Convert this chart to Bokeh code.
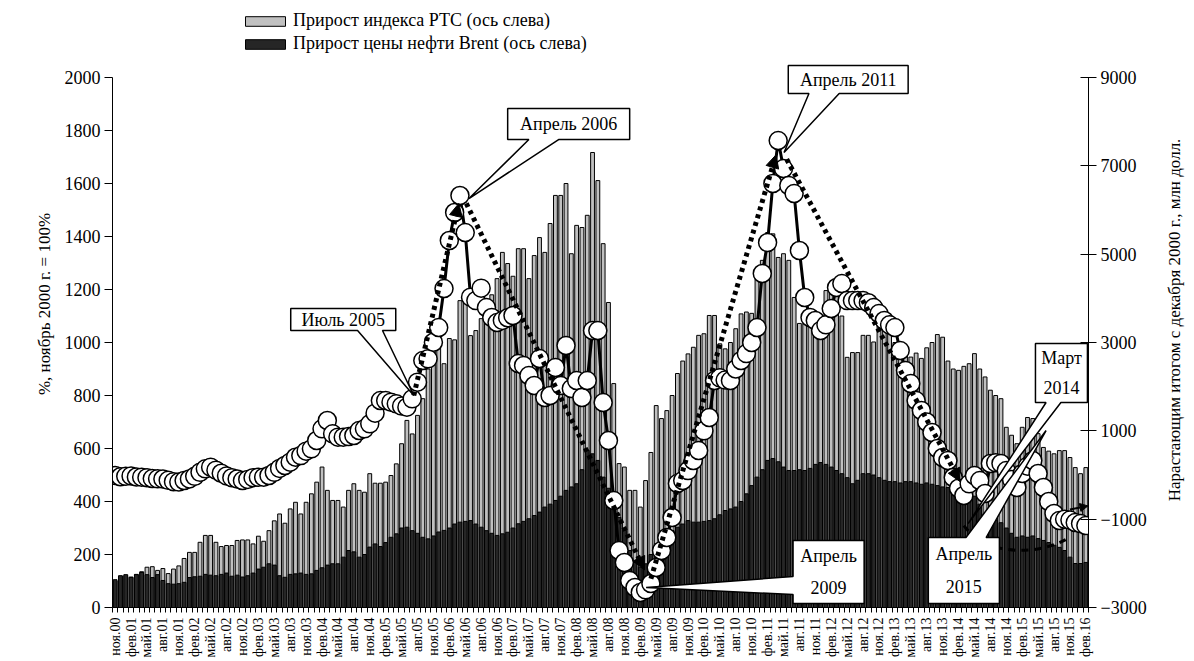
import math
from bokeh.plotting import figure
from bokeh.layouts import row
from bokeh.models import (Range1d, LinearAxis, FixedTicker, Legend, LegendItem,
                          Arrow, NormalHead, ColumnDataSource)
from bokeh.core.properties import value
from bokeh.embed import file_html
from bokeh.resources import INLINE

FONT = "Liberation Serif"

# ---------------- data ----------------
months_ru = ["янв", "фев", "мар", "апр", "май", "июн", "июл", "авг", "сен", "окт", "ноя", "дек"]
N = 184  # ноя.2000 ... фев.2016
idx = list(range(N))
month_labels = [f"{months_ru[(10 + i) % 12]}.{(2000 + (10 + i) // 12) % 100:02d}" for i in idx]
tick_pos = idx[::3]

# Прирост индекса РТС, % (ноябрь 2000 = 100%)
rts = [100, 118, 120, 115, 125, 135, 152, 154, 140, 147,
       128, 145, 157, 185, 208, 208, 246, 272, 272, 246,
       230, 234, 234, 253, 255, 255, 240, 269, 250, 290,
       327, 353, 318, 372, 397, 353, 397, 429, 473, 530,
       442, 404, 404, 379, 442, 467, 442, 435, 505, 469,
       469, 473, 498, 542, 618, 706, 655, 725, 788, 900,
       1000, 1010, 920, 1015, 1010, 1158, 1150, 1026, 1045, 1090,
       1120, 1180, 1241, 1340, 1298, 1250, 1354, 1354, 1241, 1328,
       1396, 1340, 1449, 1555, 1555, 1600, 1335, 1442, 1434, 1480,
       1717, 1611, 1373, 1151, 845, 543, 530, 442, 442, 379,
       479, 585, 762, 713, 743, 800, 883, 930, 957, 982,
       1027, 1033, 1102, 1102, 995, 976, 1000, 1052, 1108, 1115,
       1110, 1260, 1310, 1415, 1410, 1321, 1335, 1310, 1170, 1072,
       1072, 1072, 1050, 1100, 1196, 1200, 1196, 1100, 944, 962,
       962, 1027, 1027, 1002, 1140, 1120, 1050, 1000, 990, 960,
       945, 960, 940, 980, 1000, 1030, 1020, 930, 900, 895,
       910, 920, 958, 900, 870, 820, 800, 788, 680, 650,
       618, 680, 717, 713, 656, 604, 590, 580, 592, 592,
       566, 528, 505, 528]

# Прирост цены нефти Brent, %
brent = [105, 120, 124, 113, 124, 132, 124, 113, 124, 102,
         90, 88, 90, 95, 113, 116, 118, 125, 122, 120,
         125, 130, 118, 122, 115, 120, 130, 145, 152, 165,
         160, 120, 114, 125, 127, 130, 125, 127, 140, 150,
         160, 165, 165, 190, 215, 210, 190, 200, 228, 240,
         230, 245, 265, 278, 300, 303, 290, 280, 265, 259,
         270, 285, 291, 300, 315, 322, 325, 328, 315, 303,
         290, 280, 272, 278, 284, 300, 316, 325, 335, 347,
         360, 379, 390, 404, 420, 442, 455, 467, 520, 593,
         580, 555, 492, 450, 400, 340, 291, 215, 170, 152,
         165, 200, 240, 260, 275, 290, 303, 315, 328, 322,
         322, 325, 328, 335, 350, 366, 372, 379, 400, 429,
         460, 492, 520, 555, 562, 550, 530, 517, 517, 520,
         517, 525, 540, 547, 540, 530, 517, 505, 490, 467,
         480, 505, 505, 500, 490, 480, 475, 475, 470, 475,
         475, 470, 465, 470, 465, 460, 455, 453, 450, 453,
         453, 440, 420, 390, 354, 340, 328, 320, 300, 280,
         265, 270, 265, 270, 260, 253, 245, 235, 227, 215,
         190, 166, 166, 170]

# Нарастающим итогом с декабря 2000 г., млн долл. (правая ось)
flow = [-11, -40, -30, -20, -45, -50, -60, -80, -86, -90,
        -120, -150, -160, -125, -90, -30, 60, 140, 177, 110,
        40, -20, -60, -90, -125, -100, -60, -50, -50, -11,
        60, 150, 215, 290, 403, 440, 540, 593, 781, 1046,
        1234, 932, 856, 856, 870, 894, 1007, 1046, 1159, 1400,
        1686, 1686, 1649, 1611, 1560, 1535, 1725, 2101, 2592, 2630,
        3006, 3339, 4222, 5309, 5943, 6328, 5490, 4026, 3950, 4230,
        3792, 3566, 3452, 3500, 3560, 3611, 2524, 2479, 2252, 2026,
        2637, 1754, 1800, 2434, 2026, 2932, 1958, 2139, 1754, 2139,
        3271, 3271, 1641, 781, -578, -1710, -1981, -2389, -2547, -2660,
        -2600, -2457, -2094, -1710, -1415, -962, -193, -125, 100, 328,
        554, 1000, 1302, 2139, 2200, 2150, 2139, 2400, 2592, 2750,
        3000, 3339, 4562, 5264, 6600, 7573, 6939, 6554, 6373, 5083,
        4019, 3566, 3498, 3271, 3400, 3769, 4245, 4335, 3950, 3950,
        3950, 3950, 3900, 3792, 3656, 3498, 3400, 3339, 2818, 2366,
        2071, 1686, 1460, 1200, 962, 600, 396, 328, -57, -300,
        -464, -200, -11, -125, -419, 260, 280, 260, 100, -100,
        -283, 34, 200, 328, 34, -283, -600, -872, -1031, -1000,
        -1020, -1076, -1100, -1144]

left_ticks = [0, 200, 400, 600, 800, 1000, 1200, 1400, 1600, 1800, 2000]
right_ticks = [-3000, -1000, 1000, 3000, 5000, 7000, 9000]

legend_labels = ["Прирост индекса РТС (ось слева)", "Прирост цены нефти Brent (ось слева)"]
left_title = "%, ноябрь 2000 г. = 100%"
right_title = "Нарастающим итогом с декабря 2000 г., млн  долл."

# trend arrows (month index, right-axis value)
trends = [
    ((56.3, 1800), (64.8, 6150)),
    ((66.2, 6150), (99.8, -2150)),
    ((101.0, -2350), (124.6, 7250)),
    ((126.6, 7150), (159.3, -150)),
]

# callouts: text lines, box (x0, x1, y0, y1), wedge side, wedge base (b0, b1), tip
callouts = [
    (["Июль 2005"], (33.1, 52.9, 3271, 3769), "bottom", (45.7, 50.4), (56.3, 1800)),
    (["Апрель 2006"], (74.0, 97.0, 7596, 8297), "bottom", (78.0, 83.6), (66.7, 6260)),
    (["Апрель 2011"], (126.9, 149.5, 8637, 9271), "bottom", (130.8, 136.5), (126.1, 7301)),
    (["Апрель", "2009"], (127.8, 141.2, -2909, -1483), "left", (-2706, -2298), (100.1, -2547)),
    (["Апрель", "2015"], (153.3, 166.7, -2909, -1415), "top", (160.4, 164.2), (175.5, 1007)),
    (["Март", "2014"], (173.5, 183.3, 1641, 2977), "bottom", (175.5, 178.3), (160.8, -1100)),
]

# ---------------- main figure ----------------
H = 660
p = figure(width=1150, height=H,
           x_range=Range1d(-0.5, 183.5), y_range=Range1d(0, 2290.6),
           output_backend="svg", toolbar_location=None,
           min_border_left=112, min_border_right=62, min_border_top=0, min_border_bottom=53,
           outline_line_color=None, background_fill_color="white", border_fill_color="white")
p.extra_y_ranges = {"right": Range1d(-3000, 10743.4)}
p.grid.visible = False

src = ColumnDataSource(dict(x=idx, rts=rts, brent=brent, flow=flow))

r_rts = p.vbar(x="x", top="rts", bottom=0, width=0.72, fill_color="#c0c0c0",
               line_color="black", line_width=1, source=src)
r_brent = p.vbar(x="x", top="brent", bottom=0, width=0.72, fill_color="#262626",
                 line_color="black", line_width=1, source=src)

p.line("x", "flow", y_range_name="right", line_color="black", line_width=3, source=src)
p.scatter("x", "flow", y_range_name="right", size=18, fill_color="white",
          line_color="black", line_width=1.5, source=src)

for (xs, ys), (xe, ye) in trends:
    p.add_layout(Arrow(x_start=xs, y_start=ys, x_end=xe, y_end=ye, y_range_name="right",
                       line_color="black", line_width=5, line_dash="4 4",
                       end=NormalHead(size=13, fill_color="black", line_color="black", line_width=1)))

# lower dashed arc and small arrow near the end of the series
p.bezier(x0=[160.0], y0=[-1144], x1=[180.0], y1=[-1400], cx0=[165.0], cy0=[-1950],
         cx1=[176.0], cy1=[-1750], y_range_name="right", line_color="black",
         line_width=3, line_dash="7 6")
p.add_layout(Arrow(x_start=180.0, y_start=-780, x_end=183.4, y_end=-700, y_range_name="right",
                   line_color="black", line_width=2,
                   end=NormalHead(size=8, fill_color="black", line_color="black")))

# callouts
px, py, tx, ty, tt = [], [], [], [], []
for lines, (x0, x1, y0, y1), side, (b0, b1), tip in callouts:
    if side == "bottom":
        pts = [(x0, y1), (x1, y1), (x1, y0), (b1, y0), tip, (b0, y0), (x0, y0)]
    elif side == "top":
        pts = [(x0, y1), (b0, y1), tip, (b1, y1), (x1, y1), (x1, y0), (x0, y0)]
    else:  # left
        pts = [(x0, y1), (x1, y1), (x1, y0), (x0, y0), (x0, b0), tip, (x0, b1)]
    px.append([q[0] for q in pts])
    py.append([q[1] for q in pts])
    cx = (x0 + x1) / 2
    h = (y1 - y0)
    nl = len(lines)
    for k, t in enumerate(lines):
        tx.append(cx)
        ty.append(y1 - h * (k + 0.5) / nl)
        tt.append(t)

p.patches(px, py, y_range_name="right", fill_color="white", line_color="black",
          line_width=1.5)
p.text(tx, ty, text=tt, y_range_name="right", text_font=value(FONT), text_font_size="18px",
       text_align="center", text_baseline="middle", text_color="black")

# axes
xa = p.xaxis[0]
xa.ticker = FixedTicker(ticks=tick_pos, minor_ticks=[i - 0.5 for i in range(N + 1)])
xa.major_label_overrides = {i: month_labels[i] for i in tick_pos}
xa.major_label_orientation = math.pi / 2
xa.major_tick_in = 0
xa.major_tick_out = 0
xa.minor_tick_in = 0
xa.minor_tick_out = 5
xa.minor_tick_line_color = "black"
xa.major_label_standoff = 5
xa.major_label_text_font = FONT
xa.major_label_text_font_size = "14px"
xa.major_label_text_color = "black"
xa.axis_line_color = "black"

ya = p.yaxis[0]
ya.bounds = (0, 2000)
ya.ticker = FixedTicker(ticks=left_ticks)
ya.minor_tick_line_color = None
ya.major_tick_in = 0
ya.major_tick_out = 8
ya.major_tick_line_color = "black"
ya.axis_line_color = "black"
ya.major_label_standoff = 4
ya.major_label_text_font = FONT
ya.major_label_text_font_size = "18px"
ya.major_label_text_color = "black"
ya.axis_label = left_title
ya.axis_label_text_font = FONT
ya.axis_label_text_font_size = "17px"
ya.axis_label_text_font_style = "normal"
ya.axis_label_text_color = "black"
ya.axis_label_standoff = 8

ra = LinearAxis(y_range_name="right", bounds=(-3000, 9000), ticker=FixedTicker(ticks=right_ticks))
ra.minor_tick_line_color = None
ra.major_tick_in = 8
ra.major_tick_out = 8
ra.major_tick_line_color = "black"
ra.axis_line_color = "black"
ra.major_label_standoff = 4
ra.major_label_text_font = FONT
ra.major_label_text_font_size = "18px"
ra.major_label_text_color = "black"
p.add_layout(ra, "right")

legend = Legend(items=[LegendItem(label=legend_labels[0], renderers=[r_rts]),
                       LegendItem(label=legend_labels[1], renderers=[r_brent])],
                location=(128, 553), orientation="vertical", glyph_width=50, glyph_height=12,
                label_text_font=FONT, label_text_font_size="18px", label_text_color="black",
                border_line_color=None, background_fill_alpha=0, padding=0, spacing=2,
                margin=0, label_height=20, label_standoff=3)
p.add_layout(legend, "center")

# ---------------- side strip for the right-axis title (reads bottom-to-top) ----------------
p2 = figure(width=43, height=H, x_range=Range1d(0, 1), y_range=Range1d(0, H),
            x_axis_type=None, y_axis_type=None, output_backend="svg", toolbar_location=None,
            min_border=0, outline_line_color=None, background_fill_color="white",
            border_fill_color="white")
p2.grid.visible = False
p2.text(x=[0.55], y=[H - 345], text=[right_title], angle=math.pi / 2,
        text_font=value(FONT), text_font_size="17px", text_align="center",
        text_baseline="middle", text_color="black")

layout = row(p, p2, spacing=0)
open("out.html", "w").write(file_html(layout, INLINE))
